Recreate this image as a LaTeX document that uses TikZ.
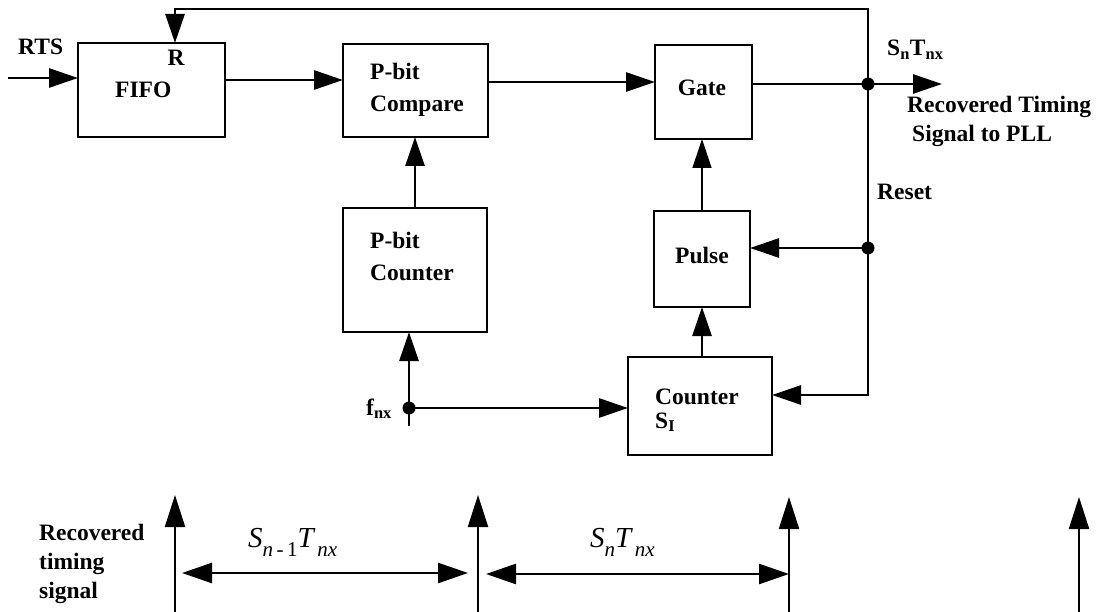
\documentclass[tikz,border=0pt]{standalone}
\usepackage{fontspec}
\setmainfont{Liberation Serif}
\usetikzlibrary{arrows.meta,calc}
\newcommand\lowsub[1]{\raisebox{-0.32em}{\fontsize{21}{21}\selectfont #1}}
\begin{document}
\begin{tikzpicture}[x=1pt,y=-1pt,
  box/.style={draw,line width=2.8pt,inner sep=0pt,outer sep=0pt},
  lbl/.style={font=\fontsize{23.5}{28}\selectfont\bfseries,inner sep=0pt,anchor=base west},
  mlbl/.style={font=\fontsize{29}{30}\selectfont\itshape,inner sep=0pt,anchor=base west},
  ln/.style={line width=2.8pt},
  arr/.style={line width=2.8pt,-{Triangle[length=29pt,width=19pt]}},
  thinarr/.style={line width=1.4pt,-{Triangle[length=29pt,width=19pt]}},
  varr/.style={line width=2.2pt,-{Triangle[length=32pt,width=20pt]}},
  darr/.style={line width=2.6pt,{Triangle[length=30pt,width=20pt]}-{Triangle[length=30pt,width=20pt]}},
  dot/.style={circle,fill,inner sep=0pt,minimum size=13pt}]
\useasboundingbox (0,0) rectangle (1110,612);

% boxes
\node[box,minimum width=147pt,minimum height=94pt] (fifo) at (151.5,90) {};
\node[box,minimum width=145pt,minimum height=93pt] (cmp) at (415.5,90.5) {};
\node[box,minimum width=97pt,minimum height=94pt] (gate) at (703.5,92) {};
\node[box,minimum width=144pt,minimum height=124pt] (pcnt) at (415,270) {};
\node[box,minimum width=96pt,minimum height=96pt] (pulse) at (702,259) {};
\node[box,minimum width=144pt,minimum height=98pt] (cnt) at (700,406) {};

% box texts
\node[lbl] (tfifo) at (115,98) {FIFO};
\node[lbl] (tcmp1) at (370,80) {P-bit};
\node[lbl] (tcmp2) at (370,112) {Compare};
\node[lbl,anchor=base] (tgate) at (702,96) {Gate};
\node[lbl] (tpc1) at (370,248) {P-bit};
\node[lbl] (tpc2) at (370,280) {Counter};
\node[lbl,anchor=base] (tpulse) at (702,263) {Pulse};
\node[lbl] (tcnt1) at (655,404) {Counter};
\node[lbl] (tcnt2) at (655,428) {S\textsubscript{I}};

% outer labels
\node[lbl] (trts) at (18,55) {RTS};
\node[lbl,anchor=base] (tr) at (176,66) {R};
\node[lbl] (tsn) at (887,56) {S\textsubscript{n}T\textsubscript{nx}};
\node[lbl] (trec1) at (907,113) {Recovered Timing};
\node[lbl] (trec2) at (912,142) {Signal to PLL};
\node[lbl] (treset) at (877,200) {Reset};
\node[lbl] (tfnx) at (366,415) {f\textsubscript{nx}};

% dots and coordinates
\node[dot] (d1) at (868,84) {};
\node[dot] (d2) at (868,248) {};
\node[dot] (d3) at (409,408) {};
\coordinate (rtsin) at (8,78);
\coordinate (y80) at (0,80);
\coordinate (y82) at (0,82);
\coordinate (out) at (942,84);
\coordinate (fbR) at (868,9);
\coordinate (fbL) at (175,9);
\coordinate (cr) at (868,395);
\coordinate (fbot) at (409,426);
\coordinate (x415) at (415,0);

% connectors
\draw[arr] (rtsin) -- (rtsin -| fifo.west);
\draw[arr] (fifo.east |- y80) -- (cmp.west |- y80);
\draw[arr] (cmp.east |- y82) -- (gate.west |- y82);
\draw[ln] (gate.east |- d1) -- (d1.center);
\draw[arr] (d1.center) -- (out);
\draw[arr] (d1.center) -- (fbR) -- (fbL) -- (fifo.north -| fbL);
\draw[ln] (d1.center) -- (d2.center);
\draw[arr] (d2.center) -- (pulse.east |- d2);
\draw[arr] (d2.center) -- (cr) -- (cnt.east |- cr);
\draw[thinarr] (pulse.north) -- (gate.south -| pulse.north);
\draw[arr] (cnt.north -| pulse.south) -- (pulse.south);
\draw[arr] (pcnt.north -| x415) -- (cmp.south -| x415);
\draw[arr] (fbot) -- (pcnt.south -| fbot);
\draw[arr] (d3.center) -- (cnt.west |- d3);

% timing diagram
\coordinate (b1) at (175,612); \coordinate (t1) at (175,495);
\coordinate (b2) at (478,612); \coordinate (t2) at (478,495);
\coordinate (b3) at (789,612); \coordinate (t3) at (789,497);
\coordinate (b4) at (1079,612); \coordinate (t4) at (1079,497);
\draw[varr] (b1) -- (t1);
\draw[varr] (b2) -- (t2);
\draw[varr] (b3) -- (t3);
\draw[varr] (b4) -- (t4);
\coordinate (m1) at (182,573); \coordinate (m2) at (468,573);
\coordinate (m3) at (486,574); \coordinate (m4) at (789,574);
\draw[darr] (m1) -- (m2);
\draw[darr] (m3) -- (m4);
\node[mlbl] (ts1) at (248,547) {S\lowsub{n\,-\,\upshape 1}T\lowsub{\,nx}};
\node[mlbl] (ts2) at (590,547) {S\lowsub{n}T\lowsub{\,nx}};
\node[lbl] (tsig1) at (39,540) {Recovered};
\node[lbl] (tsig2) at (39,569) {timing};
\node[lbl] (tsig3) at (39,598) {signal};
\end{tikzpicture}
\end{document}
